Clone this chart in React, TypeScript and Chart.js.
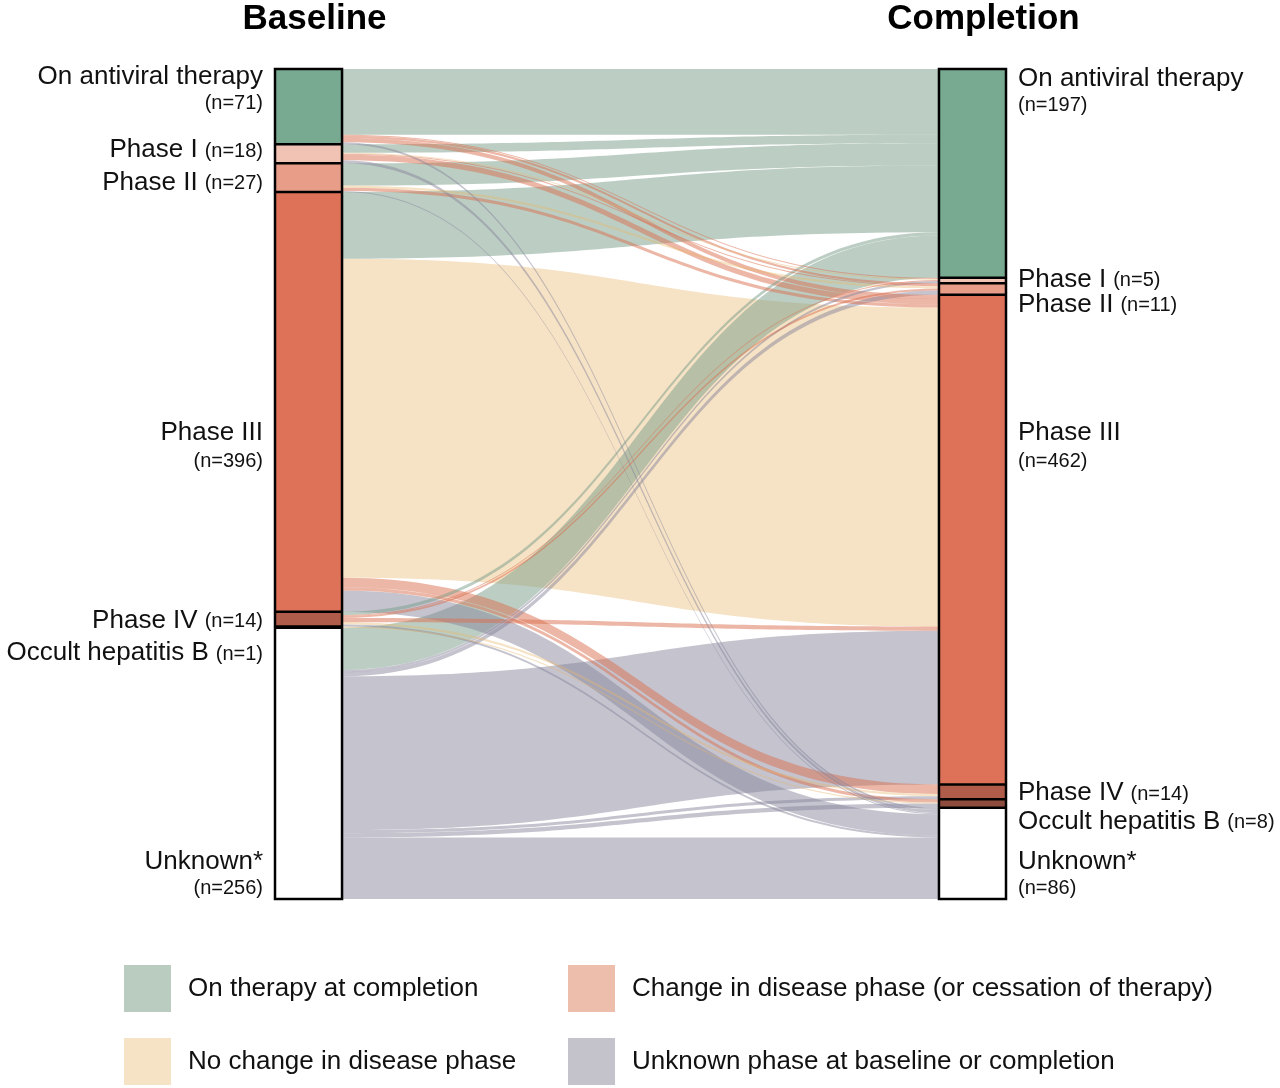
import React, { useEffect, useRef } from 'react';
import { Chart, registerables } from 'chart.js';

Chart.register(...registerables);

// ---------- data ----------
const stageTitles = ['Baseline', 'Completion'];
const phaseLabels = ['On antiviral therapy', 'Phase I', 'Phase II', 'Phase III', 'Phase IV', 'Occult hepatitis B', 'Unknown*'];
const baselineCounts = [71, 18, 27, 396, 14, 1, 256];
const completionCounts = [197, 5, 11, 462, 14, 8, 86];

// flows from each baseline group to completion groups (same order as phaseLabels)
const fromAntiviral = [62, 1, 2, 4, 0, 0, 2];
const fromPhaseI = [8, 1, 1, 5, 0, 0, 3];
const fromPhaseII = [21, 0, 2, 3, 0, 0, 1];
const fromPhaseIII = [63, 0, 0, 301, 9, 3, 20];
const fromPhaseIV = [3, 1, 2, 4, 2, 0, 2];
const fromOccult = [0, 0, 0, 0, 0, 1, 0];
const fromUnknown = [40, 2, 4, 145, 3, 4, 58];

const legendLabels = [
  'On therapy at completion',
  'No change in disease phase',
  'Change in disease phase (or cessation of therapy)',
  'Unknown phase at baseline or completion',
];

// ---------- styles ----------
const nodeColors = ['#78aa91', '#f0c3b4', '#e89d88', '#de7258', '#b05c4a', '#8e4c3e', '#ffffff'];
const flowColors = [
  'rgba(121,157,137,0.5)',
  'rgba(232,182,107,0.4)',
  'rgba(220,112,80,0.5)',
  'rgba(137,135,158,0.5)',
];
const legendSwatch = ['#bacbc0', '#f6e2c5', '#ecbeab', '#c4c3cc'];
const FONT = '"Liberation Sans", Arial, Helvetica, sans-serif';

const flowRows = [fromAntiviral, fromPhaseI, fromPhaseII, fromPhaseIII, fromPhaseIV, fromOccult, fromUnknown];

// label placement (in y-scale units) : [main line, second line or null]
const leftLabelPos: [number, number | null][] = [
  [7.5, 33], [76.5, null], [107.5, null], [343.5, 370], [520.5, null], [551, null], [748, 773.5],
];
const rightLabelPos: [number, number | null][] = [
  [9.5, 34], [199, null], [222.5, null], [343.5, 370], [683, null], [710, null], [748, 773.5],
];

function flowCategory(s: number, t: number): number {
  if (t === 0) return 0;
  if (s === 6 || t === 6) return 3;
  if (s === t) return 1;
  return 2;
}

const sankeyPlugin = {
  id: 'sankeyDraw',
  beforeDatasetsDraw(chart: any) {
    const ctx = chart.ctx as CanvasRenderingContext2D;
    const xs = chart.scales.x;
    const ys = chart.scales.y;
    const nodeW = 0.0917;
    const xL = xs.getPixelForValue(nodeW);
    const xR = xs.getPixelForValue(1 - nodeW);
    const xm = (xL + xR) / 2;

    const srcStart: number[] = [];
    let acc = 0;
    baselineCounts.forEach((c) => { srcStart.push(acc); acc += c; });
    const tgtStart: number[] = [];
    acc = 0;
    completionCounts.forEach((c) => { tgtStart.push(acc); acc += c; });

    type F = { s0: number; s1: number; t0: number; t1: number; cat: number; v: number };
    const flows: F[] = [];
    const srcCur = srcStart.slice();
    const srcPos: number[][] = flowRows.map(() => []);
    flowRows.forEach((row, s) => {
      row.forEach((v, t) => {
        srcPos[s][t] = srcCur[s];
        srcCur[s] += v;
      });
    });
    const tgtCur = tgtStart.slice();
    for (let t = 0; t < completionCounts.length; t++) {
      for (let s = 0; s < flowRows.length; s++) {
        const v = flowRows[s][t];
        if (v > 0) {
          flows.push({ s0: srcPos[s][t], s1: srcPos[s][t] + v, t0: tgtCur[t], t1: tgtCur[t] + v, cat: flowCategory(s, t), v });
        }
        tgtCur[t] += v;
      }
    }
    flows.sort((a, b) => b.v - a.v);

    ctx.save();
    flows.forEach((f) => {
      const ys0 = ys.getPixelForValue(f.s0);
      const ys1 = ys.getPixelForValue(f.s1);
      const yt0 = ys.getPixelForValue(f.t0);
      const yt1 = ys.getPixelForValue(f.t1);
      ctx.beginPath();
      ctx.moveTo(xL, ys0);
      ctx.bezierCurveTo(xm, ys0, xm, yt0, xR, yt0);
      ctx.lineTo(xR, yt1);
      ctx.bezierCurveTo(xm, yt1, xm, ys1, xL, ys1);
      ctx.closePath();
      ctx.fillStyle = flowColors[f.cat];
      ctx.fill();
    });

    const drawNodes = (counts: number[], x0v: number, x1v: number) => {
      const px0 = xs.getPixelForValue(x0v);
      const px1 = xs.getPixelForValue(x1v);
      let a = 0;
      counts.forEach((c, i) => {
        const y0 = ys.getPixelForValue(a);
        const y1 = ys.getPixelForValue(a + c);
        ctx.fillStyle = nodeColors[i];
        ctx.fillRect(px0, y0, px1 - px0, y1 - y0);
        a += c;
      });
      ctx.strokeStyle = '#000';
      ctx.lineWidth = 2.5;
      a = 0;
      counts.forEach((c, i) => {
        if (i > 0) {
          const y = ys.getPixelForValue(a);
          ctx.beginPath();
          ctx.moveTo(px0, y);
          ctx.lineTo(px1, y);
          ctx.stroke();
        }
        a += c;
      });
      ctx.strokeRect(px0, ys.getPixelForValue(0), px1 - px0, ys.getPixelForValue(a) - ys.getPixelForValue(0));
    };
    drawNodes(baselineCounts, 0, nodeW);
    drawNodes(completionCounts, 1 - nodeW, 1);

    ctx.fillStyle = '#111';
    ctx.textBaseline = 'middle';
    const mainFont = `26px ${FONT}`;
    const subFont = `20px ${FONT}`;
    const drawLabels = (counts: number[], pos: [number, number | null][], side: 'left' | 'right') => {
      const xEdge = side === 'left' ? xs.getPixelForValue(0) - 12 : xs.getPixelForValue(1) + 12;
      counts.forEach((c, i) => {
        const main = phaseLabels[i];
        const sub = `(n=${c})`;
        const [p1, p2] = pos[i];
        const y1 = ys.getPixelForValue(p1);
        if (p2 !== null) {
          const y2 = ys.getPixelForValue(p2);
          ctx.textAlign = side === 'left' ? 'right' : 'left';
          ctx.font = mainFont;
          ctx.fillText(main, xEdge, y1);
          ctx.font = subFont;
          ctx.fillText(sub, xEdge, y2);
        } else {
          ctx.font = mainFont;
          const wMain = ctx.measureText(main).width;
          ctx.font = subFont;
          const wSub = ctx.measureText(sub).width;
          const gap = 7;
          const start = side === 'left' ? xEdge - (wMain + gap + wSub) : xEdge;
          ctx.textAlign = 'left';
          ctx.font = mainFont;
          ctx.fillText(main, start, y1);
          ctx.font = subFont;
          ctx.fillText(sub, start + wMain + gap, y1 + 1);
        }
      });
    };
    drawLabels(baselineCounts, leftLabelPos, 'left');
    drawLabels(completionCounts, rightLabelPos, 'right');

    ctx.font = `bold 35px ${FONT}`;
    ctx.textAlign = 'center';
    ctx.textBaseline = 'alphabetic';
    ctx.fillStyle = '#000';
    ctx.fillText(stageTitles[0], xs.getPixelForValue(nodeW / 2) + 6, 29);
    ctx.fillText(stageTitles[1], xs.getPixelForValue(1 - nodeW / 2) + 11, 29);

    const legendPos = [
      [124, 965], [124, 1038], [568, 965], [568, 1038],
    ];
    [0, 1, 2, 3].forEach((k) => {
      const [lx, ly] = legendPos[k];
      ctx.fillStyle = legendSwatch[k];
      ctx.fillRect(lx, ly, 47, 47);
      ctx.fillStyle = '#111';
      ctx.font = `26px ${FONT}`;
      ctx.textAlign = 'left';
      ctx.textBaseline = 'middle';
      ctx.fillText(legendLabels[k], lx + 64, ly + 24);
    });
    ctx.restore();
  },
};

export default function App() {
  const ref = useRef<HTMLCanvasElement | null>(null);
  useEffect(() => {
    document.body.style.margin = '0';
    if (!ref.current) return;
    const total = baselineCounts.reduce((a, b) => a + b, 0);
    const chart = new Chart(ref.current, {
      type: 'scatter',
      data: { datasets: [] },
      options: {
        animation: false,
        responsive: false,
        devicePixelRatio: 1,
        layout: { padding: { left: 275, right: 274, top: 69, bottom: 189 } },
        scales: {
          x: { type: 'linear', min: 0, max: 1, display: false },
          y: { type: 'linear', min: 0, max: total, reverse: true, display: false },
        },
        plugins: { legend: { display: false }, tooltip: { enabled: false }, title: { display: false } },
      },
      plugins: [sankeyPlugin],
    });
    return () => chart.destroy();
  }, []);
  return (
    <div style={{ width: 1280, height: 1088, background: '#fff' }}>
      <canvas ref={ref} width={1280} height={1088} style={{ display: 'block' }} />
    </div>
  );
}
